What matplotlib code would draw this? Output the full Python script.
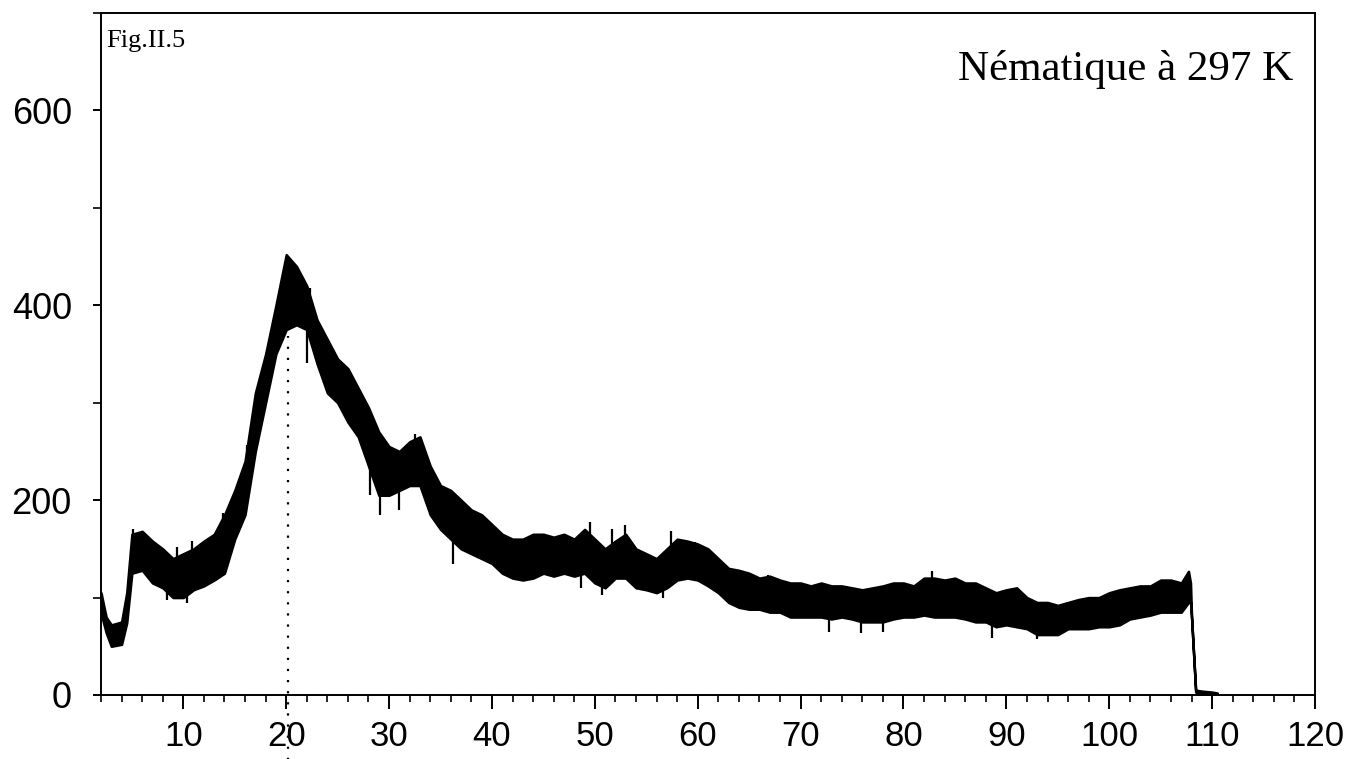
import matplotlib
matplotlib.use("Agg")
import matplotlib.pyplot as plt
from matplotlib.ticker import MultipleLocator

# ---- data (noise band: upper / lower envelope) ----
x_vals = [2.0, 2.5, 3, 4, 4.5, 5, 6, 7, 8, 9, 10, 11, 12, 13, 14, 15, 16, 17, 18, 19,
          20, 21, 22, 23, 24, 25, 26, 27, 28, 29, 30, 31, 32, 33, 34, 35, 36, 37, 38, 39,
          40, 41, 42, 43, 44, 45, 46, 47, 48, 49, 50, 51, 52, 53, 54, 55, 56, 57, 58, 59,
          60, 61, 62, 63, 64, 65, 66, 67, 68, 69, 70, 71, 72, 73, 74, 75, 76, 77, 78, 79,
          80, 81, 82, 83, 84, 85, 86, 87, 88, 89, 90, 91, 92, 93, 94, 95, 96, 97, 98, 99,
          100, 101, 102, 103, 104, 105, 106, 107, 107.7, 107.9, 108.0, 108.4, 109, 110, 110.5]
upper = [105, 80, 72, 75, 105, 165, 168, 158, 150, 140, 145, 150, 158, 165, 185, 210, 240, 310, 350, 400,
         452, 440, 420, 385, 365, 345, 335, 315, 295, 270, 255, 250, 260, 265, 235, 215, 210, 200, 190, 185,
         175, 165, 160, 160, 165, 165, 162, 165, 160, 170, 160, 150, 158, 165, 150, 145, 140, 150, 160, 158,
         155, 150, 140, 130, 128, 125, 120, 122, 118, 115, 115, 112, 115, 112, 112, 110, 108, 110, 112, 115,
         115, 112, 120, 120, 118, 120, 115, 115, 110, 105, 108, 110, 100, 95, 95, 92, 95, 98, 100, 100,
         105, 108, 110, 112, 112, 118, 118, 115, 127, 115, 80, 5, 4, 3, 2]
lower = [84, 64, 50, 52, 74, 125, 128, 115, 110, 100, 100, 108, 112, 118, 125, 160, 185, 250, 300, 350,
         375, 380, 375, 340, 310, 300, 280, 265, 235, 205, 205, 210, 215, 215, 185, 170, 160, 150, 145, 140,
         135, 125, 120, 118, 120, 125, 122, 125, 122, 125, 115, 110, 120, 120, 110, 108, 105, 110, 118, 120,
         118, 112, 105, 95, 90, 88, 88, 85, 85, 80, 80, 80, 80, 78, 80, 78, 75, 75, 75, 78,
         80, 80, 82, 80, 80, 80, 78, 75, 75, 70, 72, 70, 68, 62, 62, 62, 68, 68, 68, 70,
         70, 72, 78, 80, 82, 85, 85, 85, 95, 95, 80, 3, 0, 0, 0]

# isolated noise spikes visible beyond the band: position, tip value, base value
spike_x = [5.1, 9.4, 10.8, 13.9, 16.2, 22.3, 32.5, 49.5, 51.7, 52.9, 57.4, 59.7, 66.8, 82.8,
           8.4, 10.4, 22.0, 28.1, 29.1, 31.0, 36.2, 48.7, 50.7, 56.6, 72.8, 75.9, 78.0, 88.6, 93.0]
spike_tip = [170, 152, 158, 187, 257, 418, 268, 178, 170, 174, 168, 157, 123, 127,
             98, 94, 341, 205, 185, 190, 134, 110, 103, 100, 65, 64, 65, 58, 57]
spike_base = [145, 125, 130, 150, 215, 395, 240, 145, 135, 140, 135, 135, 100, 100,
              125, 120, 395, 265, 235, 230, 185, 140, 135, 125, 95, 95, 95, 90, 80]

peak_x = 20.2          # dotted marker position
peak_top = 368
x_ticks = [10, 20, 30, 40, 50, 60, 70, 80, 90, 100, 110, 120]
y_ticks = [0, 200, 400, 600]

# ---- figure ----
fig = plt.figure(figsize=(13.46, 7.59), dpi=100)
ax = fig.add_axes([101/1346, 1 - 695/759, (1315 - 101)/1346, (695 - 13)/759])

ax.fill_between(x_vals, lower, upper, color="black", linewidth=1.8, edgecolor="black")
ax.vlines(spike_x, spike_base, spike_tip, color="black", linewidth=1.6)

ax.plot([peak_x, peak_x], [-70, peak_top], color="black", linestyle=(0, (1, 4)),
        linewidth=1.6, clip_on=False)

ax.set_xlim(2, 120)
ax.set_ylim(0, 700)
ax.set_xticks(x_ticks)
ax.set_yticks(y_ticks)
ax.xaxis.set_minor_locator(MultipleLocator(2))
ax.yaxis.set_minor_locator(MultipleLocator(100))

for s in ax.spines.values():
    s.set_linewidth(1.4)

ax.tick_params(axis="x", which="major", direction="out", length=10, width=1.4,
               labelsize=25, pad=8)
ax.tick_params(axis="x", which="minor", direction="out", length=5, width=1.2)
ax.tick_params(axis="y", which="major", direction="out", length=6, width=1.4,
               labelsize=26, pad=15)
ax.tick_params(axis="y", which="minor", direction="out", length=6, width=1.2)
for lab in ax.get_xticklabels() + ax.get_yticklabels():
    lab.set_family("Liberation Sans")

fig.text(106/1346, 1 - 47/759, "Fig.II.5", family="Liberation Serif", fontsize=19,
         ha="left", va="baseline")
fig.text(1293/1346, 1 - 80/759, "Nématique à 297 K", family="Liberation Serif",
         fontsize=31, ha="right", va="baseline")

fig.savefig("out.png", dpi=100)
